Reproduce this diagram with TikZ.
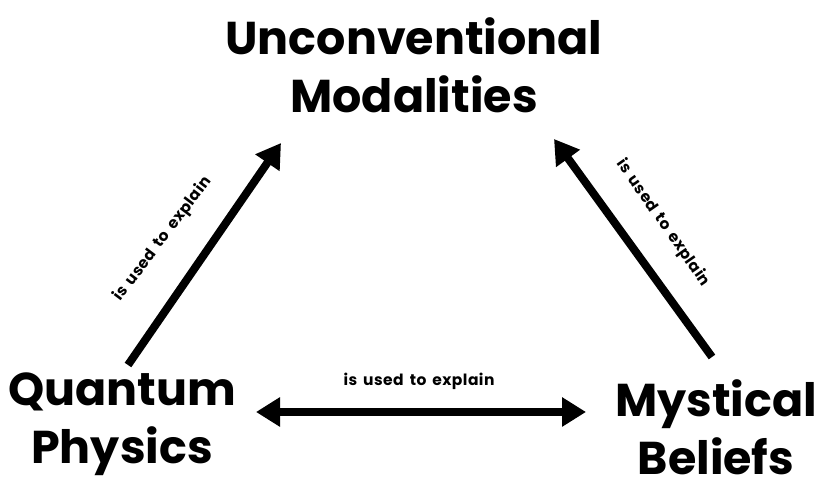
\documentclass[tikz,border=0pt]{standalone}
\usepackage{fontspec}
\setmainfont{Poppins}
\newfontfamily\lblfont[WordSpace=1.6,LetterSpace=3]{Poppins}
\usetikzlibrary{arrows.meta}
\begin{document}
\begin{tikzpicture}[x=1pt,y=1pt,
  concept/.style={font=\bfseries\fontsize{46}{58}\selectfont, align=center, inner sep=0pt},
  lbl/.style={font=\lblfont\bfseries\fontsize{15.5}{18}\selectfont, inner sep=1pt},
  arr/.style={line width=8pt, -{Triangle[length=24pt,width=28pt]}},
  darr/.style={line width=8pt, {Triangle[length=24pt,width=28pt]}-{Triangle[length=24pt,width=28pt]}}]
\useasboundingbox (0,0) rectangle (825,489);
\node[concept] (um) at (414,424) {Unconventional\\Modalities};
\node[concept] (qp) at (122,65) {Quantum\\Physics};
\node[concept] (mb) at (716,62) {Mystical\\Beliefs};
\coordinate (l1) at (128,124);
\coordinate (l2) at (281,346);
\coordinate (r1) at (712,132);
\coordinate (r2) at (554,350);
\coordinate (h1) at (256,77);
\coordinate (h2) at (586,77);
\draw[arr] (l1) -- (l2);
\draw[arr] (r1) -- (r2);
\draw[darr] (h1) -- (h2);
\node[lbl, rotate=53] (lt) at (163,250) {is used to explain};
\node[lbl, rotate=-55] (rt) at (663,266) {is used to explain};
\node[lbl] (ht) at (419,108) {is used to explain};
\end{tikzpicture}
\end{document}
